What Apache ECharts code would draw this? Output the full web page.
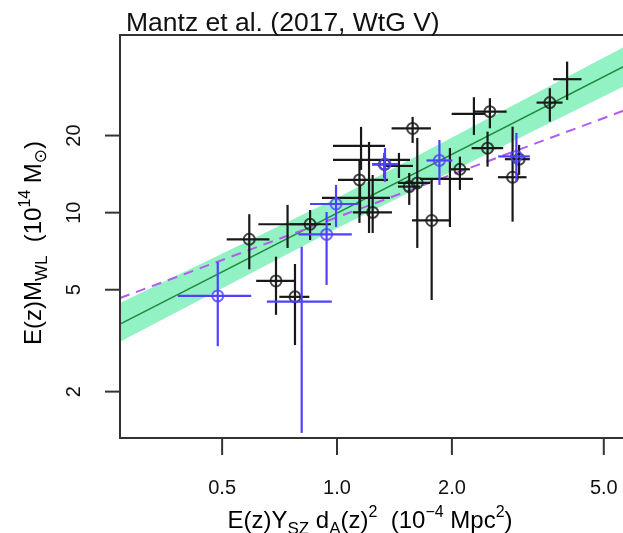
<!DOCTYPE html>
<html><head><meta charset="utf-8">
<script src="https://cdn.jsdelivr.net/npm/echarts@6/dist/echarts.min.js"></script>
<style>html,body{margin:0;padding:0;background:#fff}#c{width:623px;height:533px}</style>
</head><body><div id="c"></div>
<script>
// Tick labels
const xTicks = [0.5, 1.0, 2.0, 5.0];
const yTicks = [2, 5, 10, 20];

// Black clusters: centre, x error range, y error range, has circle
const blackX    = [0.589, 0.850, 0.742, 0.692, 0.776, 1.145, 1.156, 1.213, 1.149, 1.240, 1.331, 1.453, 1.578, 1.546, 1.623, 1.976, 2.099, 1.770, 2.515, 2.284, 2.480, 3.611, 4.008, 3.000, 2.884];
const blackY    = [7.87, 9.01, 9.01, 5.41, 4.69, 13.42, 18.22, 16.07, 11.41, 10.02, 15.43, 15.22, 21.32, 12.64, 13.06, 13.54, 14.77, 9.32, 24.80, 24.29, 17.85, 26.90, 33.20, 16.17, 13.75];
const blackXlo  = [0.514, 0.753, 0.622, 0.614, 0.706, 1.006, 0.976, 0.976, 0.913, 1.101, 1.235, 1.336, 1.390, 1.444, 1.444, 1.649, 1.976, 1.572, 2.298, 1.997, 2.253, 3.333, 3.684, 2.753, 2.640];
const blackXhi  = [0.665, 0.964, 0.892, 0.776, 0.846, 1.360, 1.336, 1.553, 1.376, 1.393, 1.436, 1.581, 1.762, 1.649, 1.752, 2.270, 2.229, 1.976, 2.782, 2.440, 2.725, 3.898, 4.371, 3.201, 3.138];
const blackYlo  = [6.01, 7.82, 7.28, 3.99, 3.04, 9.12, 14.69, 8.33, 9.79, 8.33, 13.66, 13.66, 18.72, 10.72, 7.28, 8.79, 12.27, 4.56, 21.36, 20.11, 15.12, 22.68, 27.55, 14.04, 9.22];
const blackYhi  = [9.86, 10.24, 10.72, 6.73, 6.30, 16.07, 21.62, 18.88, 12.83, 14.03, 17.11, 17.11, 23.65, 14.29, 19.58, 17.89, 16.55, 13.66, 27.99, 28.24, 20.72, 30.61, 38.89, 18.39, 21.67];
const blackRing = [1, 1, 0, 1, 1, 1, 0, 0, 0, 1, 1, 0, 1, 1, 1, 0, 1, 1, 1, 0, 1, 1, 0, 1, 1];

// Blue clusters
const blueX    = [0.994, 0.939, 1.336, 1.855, 2.951, 0.487, 0.808];
const blueY    = [10.81, 8.22, 15.45, 15.99, 16.58, 4.73, 4.49];
const blueXlo  = [0.850, 0.792, 1.235, 1.715, 2.644, 0.383, 0.655];
const blueXhi  = [1.135, 1.093, 1.444, 2.006, 3.201, 0.596, 0.969];
const blueYlo  = [8.79, 5.22, 13.18, 12.83, 13.22, 3.01, 1.38];
const blueYhi  = [12.83, 10.06, 17.89, 19.23, 20.48, 6.42, 7.36];
const blueRing = [1, 1, 1, 1, 1, 1, 0];

// Best-fit line (green), its band, and the dashed comparison relation (purple)
const fitX = [0.27, 6.0];
const fitY = [3.67, 39.0];
const bandX = [0.27, 1.0, 6.0];
const bandUpper = [4.44, 11.4, 46.5];
const bandLower = [3.13, 8.7, 32.6];
const dashX = [0.27, 6.0];
const dashY = [4.64, 25.9];

// Axis ranges
const xRange = [0.27, 6.0];
const yRange = [1.318, 49.4];

const FONT = 'Liberation Sans, Arial, DejaVu Sans, sans-serif';
const BLACK = '#181818';
const BLUE = '#5040ff';
const AXIS = '#333';

function rows(xs, ys, xlo, xhi, ylo, yhi) {
  return xs.map((x, i) => [x, ys[i], xlo[i], xhi[i], ylo[i], yhi[i]]);
}
function rings(xs, ys, flags) {
  const out = [];
  xs.forEach((x, i) => { if (flags[i]) out.push([x, ys[i]]); });
  return out;
}
function errRender(color) {
  return function (params, api) {
    const x = api.value(0), y = api.value(1);
    const a = api.coord([api.value(2), y]), b = api.coord([api.value(3), y]);
    const c = api.coord([x, api.value(4)]), d = api.coord([x, api.value(5)]);
    const style = { stroke: color, lineWidth: 2.2 };
    return { type: 'group', children: [
      { type: 'line', shape: { x1: a[0], y1: a[1], x2: b[0], y2: b[1] }, style: style },
      { type: 'line', shape: { x1: c[0], y1: c[1], x2: d[0], y2: d[1] }, style: style }
    ]};
  };
}

const chart = echarts.init(document.getElementById('c'), null, { renderer: 'canvas' });
const rich = {
  n: { fontSize: 24, fontFamily: FONT, lineHeight: 33, verticalAlign: 'middle', color: '#111' },
  s: { fontSize: 17, fontFamily: FONT, lineHeight: 22, verticalAlign: 'bottom', color: '#111' },
  p: { fontSize: 16, fontFamily: FONT, lineHeight: 22, verticalAlign: 'top', color: '#111' },
  o: { fontSize: 17, fontFamily: 'DejaVu Sans', lineHeight: 22, verticalAlign: 'bottom', color: '#111' }
};

const graphics = [
  { type: 'text', x: 126, y: 24, style: { text: 'Mantz et al. (2017, WtG V)', fontSize: 26.5, fontFamily: FONT, fill: '#111', align: 'left', verticalAlign: 'middle' } },
  { type: 'text', x: 370, y: 521, style: { text: '{n|E(z)Y}{s|SZ}{n| d}{s|A}{n|(z)}{p|2}{n|  (10}{p|\u22124}{n| Mpc}{p|2}{n|)}', rich: rich, align: 'center', verticalAlign: 'middle' } },
  { type: 'text', x: 34, y: 243, rotation: Math.PI / 2, style: { text: '{n|E(z)M}{s|WL}{n|  (10}{p|14}{n| M}{o|\u2299}{n|)}', rich: rich, align: 'center', verticalAlign: 'middle' } }
];

chart.setOption({
  animation: false,
  backgroundColor: '#fff',
  grid: { left: 120, top: 35, width: 514, height: 403, show: true, borderColor: AXIS, borderWidth: 2, backgroundColor: 'transparent', containLabel: false, outerBoundsMode: 'none' },
  xAxis: {
    type: 'log', logBase: 10, min: xRange[0], max: xRange[1], z: 10,
    axisLine: { show: true, onZero: false, lineStyle: { color: AXIS, width: 2 } },
    axisTick: { show: false },
    axisLabel: { customValues: xTicks, formatter: v => Number(v).toFixed(1), fontSize: 20, fontFamily: FONT, color: '#111', margin: 40 },
    splitLine: { show: false }, minorTick: { show: false }
  },
  yAxis: {
    type: 'log', logBase: 10, min: yRange[0], max: yRange[1], z: 10,
    axisLine: { show: true, onZero: false, lineStyle: { color: AXIS, width: 2 } },
    axisTick: { show: false },
    axisLabel: { customValues: yTicks, formatter: v => String(Number(v)), rotate: 90, fontSize: 20, fontFamily: FONT, color: '#111', margin: 36 },
    splitLine: { show: false }, minorTick: { show: false }
  },
  graphic: graphics,
  series: [
    {
      type: 'custom', z: 1, clip: true, silent: true,
      data: bandX.map((x, i) => [x, bandUpper[i], bandLower[i]]),
      renderItem: function (params, api) {
        if (params.dataIndex !== 0) return null;
        const pts = [];
        for (let i = 0; i < bandX.length; i++) pts.push(api.coord([bandX[i], bandUpper[i]]));
        for (let i = bandX.length - 1; i >= 0; i--) pts.push(api.coord([bandX[i], bandLower[i]]));
        return { type: 'polygon', shape: { points: pts }, style: { fill: '#93F2C3' } };
      }
    },
    { type: 'line', z: 2, data: fitX.map((x, i) => [x, fitY[i]]), symbol: 'none', lineStyle: { color: '#1f8a3f', width: 1.6 } },
    { type: 'line', z: 2, data: dashX.map((x, i) => [x, dashY[i]]), symbol: 'none', lineStyle: { color: '#b25cf2', width: 2, type: [10, 7] } },
    { type: 'custom', z: 3, clip: true, data: rows(blackX, blackY, blackXlo, blackXhi, blackYlo, blackYhi), renderItem: errRender(BLACK), encode: { x: 0, y: 1 } },
    { type: 'scatter', z: 4, data: rings(blackX, blackY, blackRing), symbol: 'circle', symbolSize: 11, itemStyle: { color: 'rgba(0,0,0,0)', borderColor: BLACK, borderWidth: 2 } },
    { type: 'custom', z: 5, clip: true, data: rows(blueX, blueY, blueXlo, blueXhi, blueYlo, blueYhi), renderItem: errRender(BLUE), encode: { x: 0, y: 1 } },
    { type: 'scatter', z: 6, data: rings(blueX, blueY, blueRing), symbol: 'circle', symbolSize: 11, itemStyle: { color: 'rgba(0,0,0,0)', borderColor: BLUE, borderWidth: 2 } }
  ]
});

// Axis tick marks at the labelled values, positioned through the chart's own scales
const tickGraphics = graphics.slice();
xTicks.forEach(v => {
  const p = chart.convertToPixel({ gridIndex: 0 }, [v, yRange[0]]);
  if (p && isFinite(p[0]) && isFinite(p[1])) {
    tickGraphics.push({ type: 'line', z: 100, shape: { x1: p[0], y1: p[1], x2: p[0], y2: p[1] + 17 }, style: { stroke: AXIS, lineWidth: 2 } });
  }
});
yTicks.forEach(v => {
  const p = chart.convertToPixel({ gridIndex: 0 }, [xRange[0], v]);
  if (p && isFinite(p[0]) && isFinite(p[1])) {
    tickGraphics.push({ type: 'line', z: 100, shape: { x1: p[0], y1: p[1], x2: p[0] - 15, y2: p[1] }, style: { stroke: AXIS, lineWidth: 2 } });
  }
});
chart.setOption({ graphic: tickGraphics });
</script></body></html>
